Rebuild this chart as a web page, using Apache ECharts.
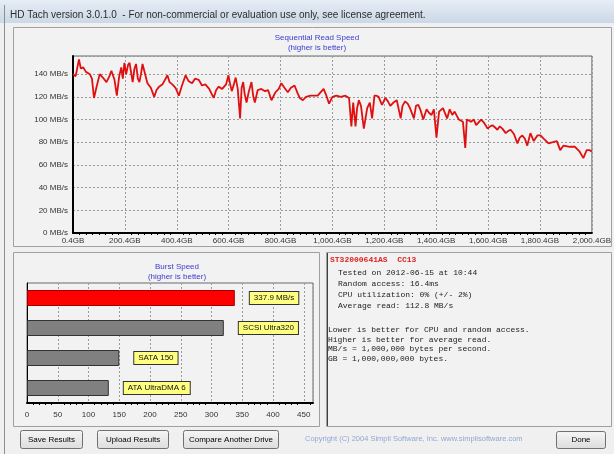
<!DOCTYPE html>
<html>
<head>
<meta charset="utf-8">
<title>HD Tach</title>
<script src="https://cdn.jsdelivr.net/npm/echarts@6/dist/echarts.min.js"></script>
<style>
	html, body { margin: 0; padding: 0; background: #f0f0f0; }
	#main { width: 614px; height: 454px; }
</style>
</head>
<body>
<div id="main"></div>
<script>
	// sequential read: position on disk (GB, minus the 0.4 offset) and speed (MB/s)
	const readGB = [0, 10, 23, 30, 39, 50, 65, 73, 81, 90, 103, 115, 129, 140, 148, 160, 169, 178, 186, 192,
		198, 205, 212, 218, 230, 237, 243, 250, 256, 262, 268, 278, 287, 300, 313, 322, 332, 345, 364, 372,
		383, 395, 408, 420, 434, 445, 459, 470, 485, 497, 510, 525, 542, 552, 561, 575, 590, 599, 605, 612,
		620, 627, 635, 644, 650, 656, 662, 669, 678, 688, 695, 701, 712, 726, 740, 752, 765, 780, 793, 803,
		815, 828, 840, 854, 866, 874, 886, 898, 916, 943, 966, 975, 987, 1000, 1015, 1032, 1050, 1064, 1073, 1080,
		1089, 1095, 1102, 1110, 1121, 1134, 1144, 1153, 1162, 1170, 1178, 1191, 1204, 1214, 1223, 1235, 1248, 1263, 1270, 1280,
		1290, 1299, 1314, 1322, 1331, 1340, 1350, 1363, 1372, 1382, 1391, 1401, 1411, 1426, 1442, 1452, 1462, 1471, 1480, 1487,
		1503, 1512, 1518, 1534, 1545, 1554, 1573, 1585, 1598, 1608, 1617, 1627, 1636, 1645, 1655, 1668, 1678, 1687, 1700, 1713,
		1722, 1732, 1742, 1751, 1763, 1776, 1790, 1802, 1815, 1833, 1850, 1865, 1878, 1890, 1897, 1915, 1935, 1952, 1967, 1980,
		1990, 2000];
	const readSpeed = [140, 138, 153, 145, 146, 142, 140, 136, 119, 128, 140, 137, 133, 138, 143, 135, 121, 138, 146, 136,
		150, 140, 148, 150, 133, 145, 149, 136, 133, 140, 149, 140, 132, 128, 120, 126, 129, 131, 139, 133,
		131, 128, 121, 130, 139, 134, 132, 136, 135, 130, 131, 127, 119, 126, 129, 127, 131, 139, 132, 125,
		131, 137, 127, 101, 128, 133, 122, 115, 125, 133, 120, 115, 126, 127, 125, 126, 117, 124, 127, 132,
		128, 124, 128, 130, 123, 119, 117, 120, 121, 121, 127, 122, 114, 120, 121, 120, 121, 119, 94, 115,
		94, 110, 117, 112, 92, 110, 115, 101, 121, 121, 120, 113, 119, 116, 112, 115, 117, 101, 112, 116,
		114, 110, 101, 112, 113, 108, 100, 109, 106, 104, 109, 84, 107, 110, 101, 109, 104, 107, 103, 100,
		98, 75, 100, 98, 100, 95, 100, 97, 92, 94, 95, 93, 91, 94, 92, 88, 90, 91, 87, 79,
		84, 86, 83, 77, 88, 81, 86, 86, 83, 79, 80, 81, 73, 77, 77, 76, 76, 72, 66, 73,
		73, 72];

	// burst speed
	const burstNames = ['This drive', 'SCSI Ultra320', 'SATA 150', 'ATA UltraDMA 6'];
	const burstValues = [337.9, 320, 150, 133];
	const burstLabels = ['337.9 MB/s', 'SCSI Ultra320', 'SATA 150', 'ATA UltraDMA 6'];

	const driveName = 'ST32000641AS  CC13';
	const infoLines = [
		'Tested on 2012-06-15 at 10:44',
		'Random access: 16.4ms',
		'CPU utilization: 0% (+/- 2%)',
		'Average read: 112.8 MB/s'
	];
	const noteLines = [
		'Lower is better for CPU and random access.',
		'Higher is better for average read.',
		'MB/s = 1,000,000 bytes per second.',
		'GB = 1,000,000,000 bytes.'
	];
	const buttons = ['Save Results', 'Upload Results', 'Compare Another Drive', 'Done'];

	const sans = 'Liberation Sans, Arial, sans-serif';
	const mono = 'Liberation Mono, Courier New, monospace';

	const gbLabel = v => {
		const s = (v + 0.4).toFixed(1);
		const parts = s.split('.');
		return parts[0].replace(/\B(?=(\d{3})+(?!\d))/g, ',') + '.' + parts[1] + 'GB';
	};

	const button = (x, y, w, h, text) => ({
		type: 'group',
		children: [
			{
				type: 'rect', shape: { x: x, y: y, width: w, height: h, r: 2 },
				style: {
					fill: new echarts.graphic.LinearGradient(0, 0, 0, 1, [
						{ offset: 0, color: '#f6f6f6' }, { offset: 1, color: '#dcdcdc' }
					]),
					stroke: '#707070', lineWidth: 1
				}
			},
			{
				type: 'text', x: x + w / 2, y: y + h / 2,
				style: { text: text, fill: '#000', font: '8px ' + sans, align: 'center', verticalAlign: 'middle' }
			}
		]
	});

	const chart = echarts.init(document.getElementById('main'), null, { renderer: 'canvas' });

	chart.setOption({
		animation: false,
		backgroundColor: '#f0f0f0',
		graphic: [
			// window chrome
			{
				type: 'rect', z: -10, shape: { x: 0, y: 0, width: 614, height: 23 },
				style: {
					fill: new echarts.graphic.LinearGradient(0, 0, 0, 1, [
						{ offset: 0, color: '#e6edf5' }, { offset: 1, color: '#cbd8e7' }
					])
				}
			},
			{ type: 'line', z: -10, shape: { x1: 4.5, y1: 5, x2: 4.5, y2: 454 }, style: { stroke: '#8a8f96', lineWidth: 1 } },
			{
				type: 'text', x: 10, y: 15,
				style: {
					text: 'HD Tach version 3.0.1.0  - For non-commercial or evaluation use only, see license agreement.',
					fill: '#2b2b2b', font: '10px ' + sans, verticalAlign: 'middle'
				}
			},
			// panels
			{ type: 'rect', z: -10, shape: { x: 13.5, y: 27.5, width: 598, height: 219 }, style: { fill: '#f2f2f2', stroke: '#a0a0a0' } },
			{ type: 'rect', z: -10, shape: { x: 13.5, y: 252.5, width: 306, height: 174 }, style: { fill: '#f2f2f2', stroke: '#a0a0a0' } },
			{ type: 'rect', z: -10, shape: { x: 326.5, y: 252.5, width: 285, height: 174 }, style: { fill: '#f2f2f2', stroke: '#a0a0a0' } },
			{ type: 'line', z: -9, shape: { x1: 327.5, y1: 253, x2: 327.5, y2: 426 }, style: { stroke: '#404040', lineWidth: 1 } },
			// info text
			{
				type: 'text', x: 330, y: 260,
				style: { text: driveName, fill: '#e02020', font: 'bold 8px ' + mono, verticalAlign: 'middle' }
			},
			{
				type: 'text', x: 338, y: 267,
				style: { text: infoLines.join('\n'), fill: '#222', font: '8px ' + mono, lineHeight: 11.2 }
			},
			{
				type: 'text', x: 328, y: 325,
				style: { text: noteLines.join('\n'), fill: '#222', font: '8px ' + mono, lineHeight: 9.6 }
			},
			// buttons and copyright
			button(20.5, 430.5, 62, 18, buttons[0]),
			button(97.5, 430.5, 71, 18, buttons[1]),
			button(183.5, 430.5, 95, 18, buttons[2]),
			button(556.5, 431.5, 49, 17, buttons[3]),
			{
				type: 'text', x: 305, y: 439,
				style: {
					text: 'Copyright (C) 2004 Simpli Software, Inc. www.simplisoftware.com',
					fill: '#8fa8d4', font: '7.5px ' + sans, verticalAlign: 'middle'
				}
			}
		],
		title: [
			{
				text: 'Sequential Read Speed', subtext: '(higher is better)',
				left: 312, top: 29, textAlign: 'center', itemGap: 2,
				textStyle: { color: '#3a3ad0', fontSize: 8, fontWeight: 'normal', fontFamily: sans },
				subtextStyle: { color: '#3a3ad0', fontSize: 8, fontFamily: sans }
			},
			{
				text: 'Burst Speed', subtext: '(higher is better)',
				left: 172, top: 258, textAlign: 'center', itemGap: 2,
				textStyle: { color: '#3a3ad0', fontSize: 8, fontWeight: 'normal', fontFamily: sans },
				subtextStyle: { color: '#3a3ad0', fontSize: 8, fontFamily: sans }
			}
		],
		grid: [
			{ left: 73, right: 17, top: 56, bottom: 221, show: true, backgroundColor: '#f2f2f2', borderColor: '#6a6a6a', borderWidth: 1 },
			{ left: 27, right: 301, top: 283, bottom: 51, show: true, backgroundColor: '#f2f2f2', borderColor: '#6a6a6a', borderWidth: 1 }
		],
		xAxis: [
			{
				gridIndex: 0, type: 'value', min: 0, max: 2000, interval: 200,
				axisLine: { show: true, onZero: false, lineStyle: { color: '#000', width: 2 } },
				axisTick: { show: false },
				minorTick: { show: true, splitNumber: 8, length: 2, lineStyle: { color: '#000' } },
				axisLabel: { formatter: gbLabel, fontSize: 8, color: '#333', fontFamily: sans, margin: 4 },
				splitLine: { show: true, lineStyle: { color: '#9a9a9a', type: [2, 2] } }
			},
			{
				gridIndex: 1, type: 'value', min: 0, max: 465, interval: 50,
				axisLine: { show: true, lineStyle: { color: '#000', width: 2 } },
				axisTick: { show: false },
				minorTick: { show: true, splitNumber: 5, length: 2, lineStyle: { color: '#000' } },
				axisLabel: {
					formatter: v => (v % 50 === 0 ? String(v) : ''),
					fontSize: 8, color: '#333', fontFamily: sans, margin: 8
				},
				splitLine: { show: true, lineStyle: { color: '#9a9a9a', type: [2, 2] } }
			}
		],
		yAxis: [
			{
				gridIndex: 0, type: 'value', min: 0, max: 156, interval: 20,
				axisLine: { show: true, lineStyle: { color: '#000', width: 2 } },
				axisTick: { show: false },
				axisLabel: {
					formatter: v => (v % 20 === 0 ? v + ' MB/s' : ''),
					fontSize: 8, color: '#333', fontFamily: sans, margin: 5
				},
				splitLine: { show: true, lineStyle: { color: '#9a9a9a', type: [2, 2] } }
			},
			{
				gridIndex: 1, type: 'category', inverse: true, data: burstNames,
				axisLine: { show: true, lineStyle: { color: '#000', width: 1 } },
				axisTick: { show: false },
				axisLabel: { show: false },
				splitLine: { show: false }
			}
		],
		series: [
			{
				type: 'line', xAxisIndex: 0, yAxisIndex: 0,
				data: readGB.map((g, i) => [g, readSpeed[i]]),
				showSymbol: false,
				lineStyle: { color: '#e01010', width: 1.8 },
				z: 3
			},
			{
				type: 'bar', xAxisIndex: 1, yAxisIndex: 1,
				barWidth: 16,
				data: burstValues.map((v, i) => ({
					value: v,
					itemStyle: i === 0
						? { color: '#ff0000', borderColor: '#a00000', borderWidth: 1 }
						: { color: '#808080', borderColor: '#333', borderWidth: 1 }
				})),
				label: {
					show: true, position: 'right', distance: 15,
					formatter: p => burstLabels[p.dataIndex],
					backgroundColor: '#ffff80', borderColor: '#333', borderWidth: 1,
					padding: [2, 4], fontSize: 8, color: '#111', fontFamily: sans
				}
			}
		]
	});
</script>
</body>
</html>
